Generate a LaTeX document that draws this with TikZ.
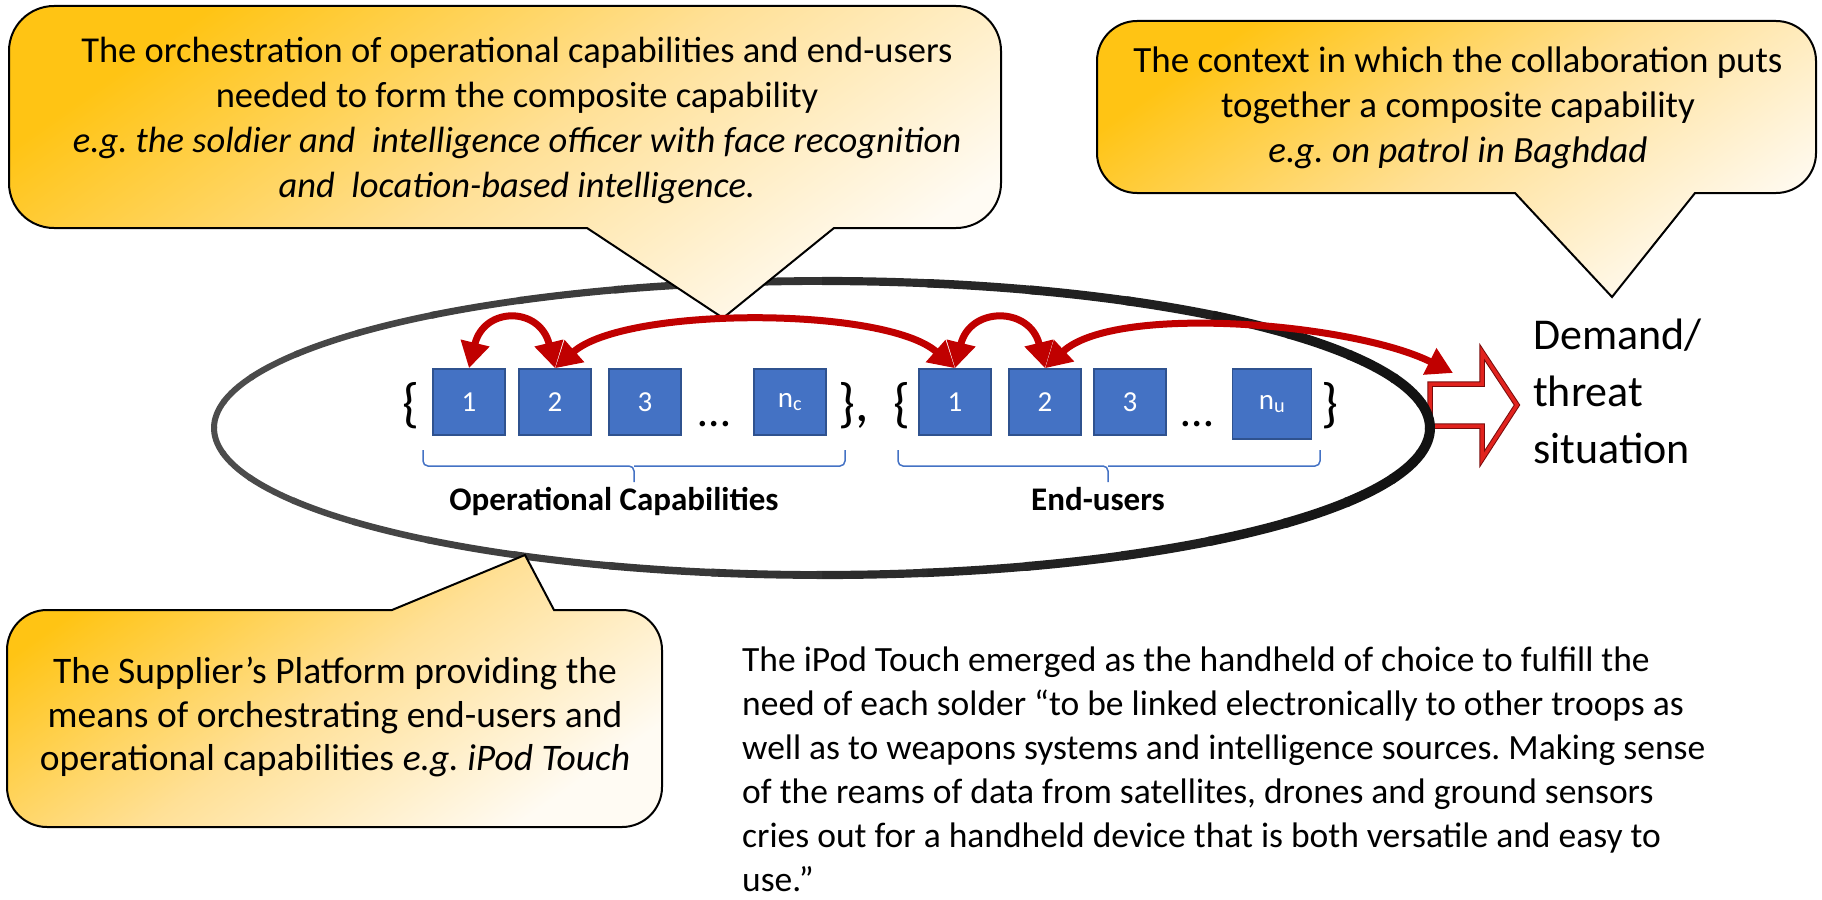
\documentclass[tikz,border=0pt]{standalone}
\usepackage{fontspec}
\setmainfont{Carlito}
\usetikzlibrary{arrows.meta}
\definecolor{calgold}{RGB}{255,196,20}
\definecolor{calmid}{RGB}{255,224,150}
\definecolor{calpale}{RGB}{255,251,243}
\definecolor{boxblue}{RGB}{68,114,196}
\definecolor{boxedge}{RGB}{47,82,143}
\definecolor{linkred}{RGB}{192,0,0}
\definecolor{flagred}{RGB}{225,35,30}
\definecolor{flagedge}{RGB}{120,10,10}
\frenchspacing

\begin{document}
\begin{tikzpicture}[x=1pt, y=-1pt,
  callout/.style={draw=black, line width=2, top color=calgold, bottom color=calpale, middle color=calmid, shading angle=35},
  calltext/.style={inner sep=0, align=center, font=\fontsize{36.5}{45}\selectfont},
  capbox/.style={draw=boxedge, line width=1.5, fill=boxblue, text=white, minimum width=72, minimum height=66, inner sep=0, font=\fontsize{29}{30}\selectfont},
  bigsym/.style={inner sep=0, font=\fontsize{54}{54}\selectfont},
  ubrace/.style={draw=boxblue, line width=1.5, rounded corners=5},
  grouplabel/.style={anchor=base, inner sep=0, font=\fontsize{33}{36}\selectfont\bfseries},
  redlink/.style={linkred, line width=7, {Triangle[length=26pt,width=28pt]}-{Triangle[length=26pt,width=28pt]}}]
  \useasboundingbox (0,0) rectangle (1822,899);

  % demand arrow
  \filldraw[fill=white, draw=flagedge, double=flagred, double distance=3.5, line width=1]
    (1430,384) -- (1482,384) -- (1482,352) -- (1517,405) -- (1482,459) -- (1482,426) -- (1430,426) -- cycle;

  % platform ellipse, darker to the right
  \coordinate (orb) at (822,428);
  \foreach \a in {0,10,...,350}{
    \pgfmathtruncatemacro\dark{70+24*(1+cos(\a+5))/2}
    \pgfmathsetmacro\wid{6+4*(1+cos(\a+5))/2}
    \draw[line width=\wid, black!\dark] (orb) ++(\a:608 and 147)
      arc[start angle=\a, end angle=\a+10.5, x radius=608, y radius=147];
  }

  % callouts
  \draw[callout] (723,318) -- (834,228) -- (870,228) [rounded corners=45] -- (1001,228) -- (1001,6)
    -- (9,6) -- (9,228) -- (500,228) [sharp corners] -- (587,228) -- cycle;
  \node[calltext, anchor=north] (orch) at (517,37) {The orchestration of operational capabilities and end-users\\
    needed to form the composite capability\\
    \textit{e.g. the soldier and\ \ intelligence officer with face recognition}\\
    \textit{and\ \ location-based intelligence.}};

  \draw[callout] (1612,297) -- (1695,193) -- (1740,193) [rounded corners=40] -- (1816,193) -- (1816,21)
    -- (1097,21) -- (1097,193) -- (1450,193) [sharp corners] -- (1515,193) -- cycle;
  \node[calltext, anchor=north, font=\fontsize{37}{45}\selectfont] (context) at (1458,47) {The context in which the collaboration puts\\
    together a composite capability\\
    \textit{e.g. on patrol in Baghdad}};

  \draw[callout] (525,555) -- (554,610) -- (600,610) [rounded corners=40] -- (662,610) -- (662,827)
    -- (7,827) -- (7,610) -- (350,610) [sharp corners] -- (392,610) -- cycle;
  \node[calltext, anchor=north, font=\fontsize{37.5}{43.4}\selectfont] (supplier) at (335,657) {The Supplier’s Platform providing the\\
    means of orchestrating end-users and\\
    operational capabilities \textit{e.g. iPod Touch}};

  % operational capabilities
  \node[bigsym] (lb1) at (411,406) {\{};
  \node[capbox] (cap1) at (469,402) {1};
  \node[capbox] (cap2) at (555,402) {2};
  \node[capbox] (cap3) at (645,402) {3};
  \node[bigsym, anchor=base, font=\fontsize{46}{46}\selectfont] (dc) at (714,426) {…};
  \node[capbox] (capn) at (790,402) {n\textsubscript{c}};
  \node[bigsym, anchor=west] (rb1) at (838,406) {\},};
  % end-users
  \node[bigsym] (lb2) at (902,406) {\{};
  \node[capbox] (eu1) at (955,402) {1};
  \node[capbox] (eu2) at (1045,402) {2};
  \node[capbox] (eu3) at (1130,402) {3};
  \node[bigsym, anchor=base, font=\fontsize{46}{46}\selectfont] (de) at (1197,426) {…};
  \node[capbox, minimum width=79, minimum height=70] (eun) at (1272,404) {n\textsubscript{u}};
  \node[bigsym] (rb2) at (1330,406) {\}};

  % braces and group names
  \draw[ubrace] (423,450) |- (634,466) -- (634,482);
  \draw[ubrace] (634,466) -| (845,450);
  \draw[ubrace] (898,450) |- (1108,466) -- (1108,482);
  \draw[ubrace] (1108,466) -| (1320,450);
  \node[grouplabel] (capname) at (614,510) {Operational Capabilities};
  \node[grouplabel] (euname) at (1098,510) {End-users};

  % demand / threat
  \node[anchor=north west, inner sep=0, align=left, font=\fontsize{44}{57}\selectfont] (threat) at (1533,319) {Demand/\\threat\\situation};
  \coordinate (hit) at (1453,373);

  % orchestration links
  \draw[redlink] (cap1.north) .. controls +(15,-62) and +(-15,-62) .. (cap2.north);
  \draw[redlink] (cap2.north) .. controls +(70,-62) and +(-70,-62) .. (eu1.north);
  \draw[redlink] (eu1.north) .. controls +(15,-62) and +(-15,-62) .. (eu2.north);
  \draw[redlink] (eu2.north) .. controls +(70,-65) and +(-100,-50) .. (hit);

  % quote
  \node[anchor=north west, inner sep=0, align=left, font=\fontsize{35.5}{44}\selectfont] (quote) at (742,647) {The iPod Touch emerged as the handheld of choice to fulfill the\\
    need of each solder “to be linked electronically to other troops as\\
    well as to weapons systems and intelligence sources. Making sense\\
    of the reams of data from satellites, drones and ground sensors\\
    cries out for a handheld device that is both versatile and easy to\\
    use.”};
\end{tikzpicture}
\end{document}
